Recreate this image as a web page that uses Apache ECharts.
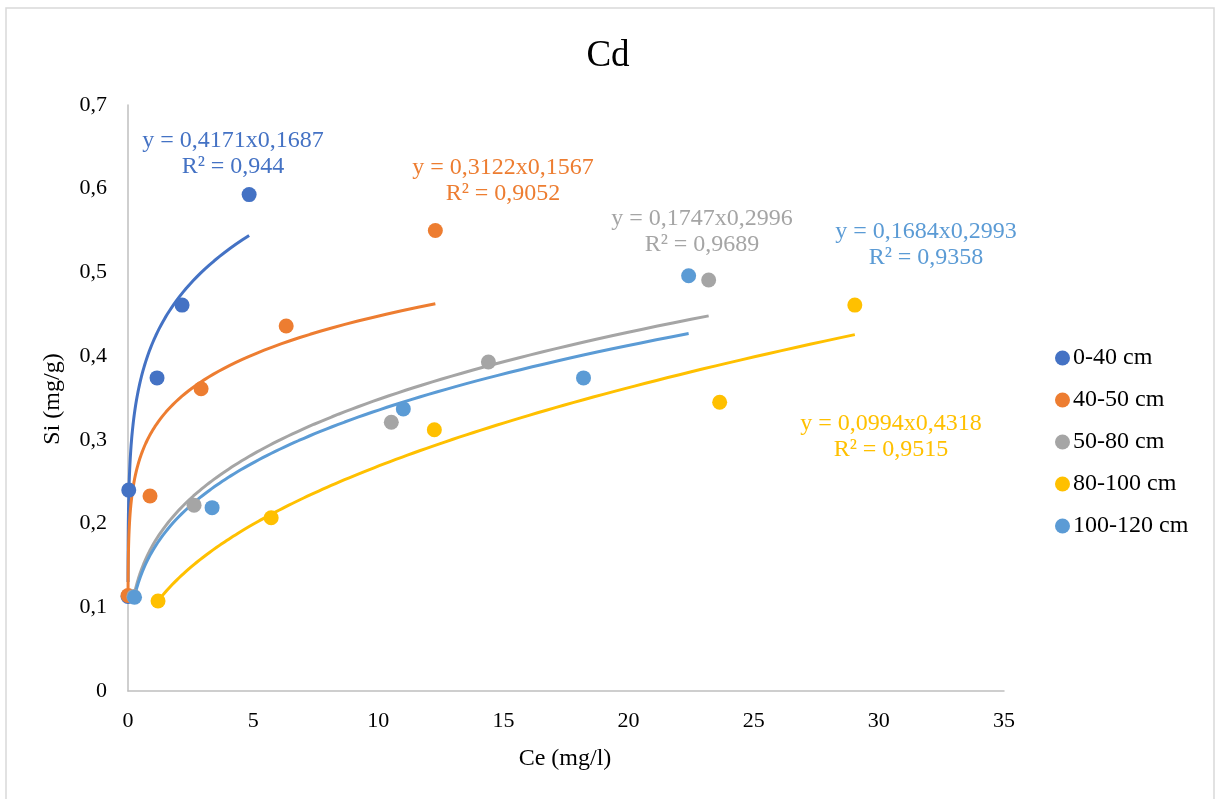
<!DOCTYPE html>
<html>
<head>
<meta charset="utf-8">
<script src="https://cdn.jsdelivr.net/npm/echarts@6/dist/echarts.min.js"></script>
<style>
html,body{margin:0;padding:0;background:#fff;}
#chart{width:1216px;height:799px;}
</style>
</head>
<body>
<div id="chart"></div>
<script>
const seriesNames = ['0-40 cm', '40-50 cm', '50-80 cm', '80-100 cm', '100-120 cm'];
const colors = ['#4472C4', '#ED7D31', '#A5A5A5', '#FFC000', '#5B9BD5'];

const data0_40 = [[0.001, 0.113], [0.03, 0.240], [1.16, 0.374], [2.16, 0.461], [4.84, 0.593]];
const data40_50 = [[0.002, 0.114], [0.88, 0.233], [2.92, 0.361], [6.32, 0.436], [12.28, 0.550]];
const data50_80 = [[0.23, 0.113], [2.64, 0.222], [10.52, 0.321], [14.4, 0.393], [23.2, 0.491]];
const data80_100 = [[1.2, 0.1075], [5.72, 0.207], [12.24, 0.312], [23.64, 0.345], [29.04, 0.461]];
const data100_120 = [[0.26, 0.112], [3.36, 0.219], [11.0, 0.337], [18.2, 0.374], [22.4, 0.496]];

// Power trendline coefficients as printed on the chart: y = a * x^b
const coefA = [0.4171, 0.3122, 0.1747, 0.0994, 0.1684];
const coefB = [0.1687, 0.1567, 0.2996, 0.4318, 0.2993];
const eqLabels = ['y = 0,4171x0,1687', 'y = 0,3122x0,1567', 'y = 0,1747x0,2996', 'y = 0,0994x0,4318', 'y = 0,1684x0,2993'];
const r2Labels = ['R² = 0,944', 'R² = 0,9052', 'R² = 0,9689', 'R² = 0,9515', 'R² = 0,9358'];

const xTicks = [0, 5, 10, 15, 20, 25, 30, 35];
const yTicks = [0, 0.1, 0.2, 0.3, 0.4, 0.5, 0.6, 0.7];

const allData = [data0_40, data40_50, data50_80, data80_100, data100_120];

function trend(i) {
  const d = allData[i];
  const xs = d.map(p => p[0]);
  const x0 = Math.min(...xs), x1 = Math.max(...xs);
  const out = [];
  const n = 150;
  for (let k = 0; k <= n; k++) {
    const x = x0 * Math.pow(x1 / x0, k / n);
    out.push([x, coefA[i] * Math.pow(x, coefB[i])]);
  }
  return out;
}

const FONT = '"Liberation Serif", "Times New Roman", serif';

const series = [];
for (let i = 0; i < 5; i++) {
  series.push({
    name: seriesNames[i] + ' trend',
    type: 'line',
    data: trend(i),
    showSymbol: false,
    symbol: 'none',
    lineStyle: { color: colors[i], width: 3 },
    z: 2,
    silent: true
  });
}
for (let i = 0; i < 5; i++) {
  series.push({
    name: seriesNames[i],
    type: 'scatter',
    data: allData[i],
    symbol: 'circle',
    symbolSize: 15,
    itemStyle: { color: colors[i], opacity: 1 },
    z: 3
  });
}

// equation label centers [x, y of first line]
const eqPos = [[233, 141], [503, 168], [702, 219], [891, 424], [926, 232]];
const graphics = [
  { type: 'rect', shape: { x: 6, y: 8, width: 1208, height: 800 }, style: { fill: 'none', stroke: '#D9D9D9', lineWidth: 1.5 }, silent: true },
  { type: 'text', x: 53, y: 399, rotation: Math.PI / 2, style: { text: 'Si (mg/g)', font: '24px ' + FONT, fill: '#000', textAlign: 'center', textVerticalAlign: 'middle' } },
  { type: 'text', style: { text: 'Ce (mg/l)', x: 565, y: 759, font: '24px ' + FONT, fill: '#000', textAlign: 'center', textVerticalAlign: 'middle' } }
];
for (let i = 0; i < 5; i++) {
  graphics.push({ type: 'text', style: { text: eqLabels[i], x: eqPos[i][0], y: eqPos[i][1], font: '24px ' + FONT, fill: colors[i], textAlign: 'center', textVerticalAlign: 'middle' } });
  graphics.push({ type: 'text', style: { text: r2Labels[i], x: eqPos[i][0], y: eqPos[i][1] + 26, font: '24px ' + FONT, fill: colors[i], textAlign: 'center', textVerticalAlign: 'middle' } });
}

const chart = echarts.init(document.getElementById('chart'));
chart.setOption({
  backgroundColor: '#fff',
  animation: false,
  title: {
    text: 'Cd', left: 'center', top: 33,
    textStyle: { fontFamily: FONT, fontSize: 37, fontWeight: 'normal', color: '#000' }
  },
  grid: { left: 128, right: 212, top: 105, bottom: 108 },
  legend: {
    data: seriesNames,
    orient: 'vertical',
    left: 1050, top: 341,
    icon: 'circle', itemWidth: 15, itemHeight: 15, itemGap: 18,
    textStyle: { fontFamily: FONT, fontSize: 24, color: '#000', lineHeight: 24, padding: [0, 0, 0, -2] }
  },
  xAxis: {
    type: 'value', min: xTicks[0], max: xTicks[xTicks.length - 1], interval: 5,
    splitLine: { show: false },
    axisTick: { show: false },
    axisLine: { show: true, lineStyle: { color: '#BFBFBF', width: 1.5 } },
    axisLabel: { fontFamily: FONT, fontSize: 22, color: '#000', margin: 19 }
  },
  yAxis: {
    type: 'value', min: yTicks[0], max: yTicks[yTicks.length - 1], interval: 0.1,
    splitLine: { show: false },
    axisTick: { show: false },
    axisLine: { show: true, lineStyle: { color: '#BFBFBF', width: 1.5 } },
    axisLabel: { fontFamily: FONT, fontSize: 22, color: '#000', margin: 21,
      formatter: v => (Math.round(v * 10) / 10).toString().replace('.', ',') }
  },
  graphic: graphics,
  series: series
});
</script>
</body>
</html>
